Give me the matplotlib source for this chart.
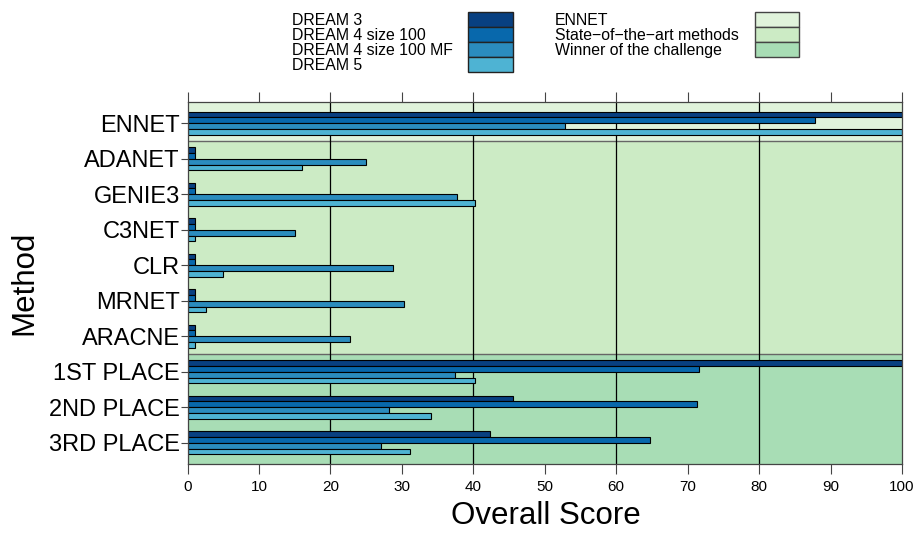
import matplotlib
matplotlib.use("Agg")
import matplotlib.pyplot as plt
from matplotlib.patches import Rectangle

plt.rcParams['font.family'] = ['Liberation Sans', 'DejaVu Sans']

methods = ["ENNET", "ADANET", "GENIE3", "C3NET", "CLR", "MRNET", "ARACNE",
           "1ST PLACE", "2ND PLACE", "3RD PLACE"]
series_names = ["DREAM 3", "DREAM 4 size 100", "DREAM 4 size 100 MF", "DREAM 5"]
dream3 = [100, 1, 1, 1, 1, 1, 1, 100, 45.5, 42.3]
dream4 = [87.8, 1, 1, 1, 1, 1, 1, 71.6, 71.3, 64.8]
dream4mf = [52.9, 25.0, 37.7, 15.1, 28.8, 30.3, 22.8, 37.5, 28.2, 27.1]
dream5 = [100, 16.0, 40.3, 1.0, 4.9, 2.6, 1.0, 40.3, 34.1, 31.1]
series = [dream3, dream4, dream4mf, dream5]
series_colors = ["#084081", "#0868ac", "#2b8cbe", "#4eb3d3"]

band_names = ["ENNET", "State\u2212of\u2212the\u2212art methods", "Winner of the challenge"]
band_colors = ["#e0f3db", "#ccebc5", "#a8ddb5"]
band_groups = [[0], [1, 2, 3, 4, 5, 6], [7, 8, 9]]

xticks = [0, 10, 20, 30, 40, 50, 60, 70, 80, 90, 100]
grid_x = [20, 40, 60, 80]

W, H = 916, 533
fig = plt.figure(figsize=(W / 100, H / 100), dpi=100)
L, R, T, B = 187.5, 902, 102, 464
ax = fig.add_axes([L / W, 1 - B / H, (R - L) / W, (B - T) / H])

n = len(methods)
ymin, ymax = -0.6, n - 1 + 0.6
ax.set_xlim(0, 100)
ax.set_ylim(ymax, ymin)

# background bands
for j, (g, col) in enumerate(zip(band_groups, band_colors)):
    lo = ymin if j == 0 else min(g) - 0.5
    hi = ymax if j == len(band_groups) - 1 else max(g) + 0.5
    ax.axhspan(lo, hi, color=col, zorder=0, lw=0)
for g in band_groups[:-1]:
    ax.axhline(max(g) + 0.5, color="#666666", lw=1.0, zorder=1)
for gx in grid_x:
    ax.axvline(gx, color="black", lw=0.9, zorder=1)

bh = 0.164
for k, (vals, col) in enumerate(zip(series, series_colors)):
    ys = [i + (k - 1.5) * bh for i in range(n)]
    ax.barh(ys, vals, height=bh, color=col, edgecolor="black", linewidth=0.8, zorder=3)

ax.set_yticks(range(n))
ax.set_yticklabels(methods, fontsize=17)
ax.set_xticks(xticks)
ax.set_xticklabels([str(v) for v in xticks], fontsize=11)
ax.tick_params(axis='y', direction='out', length=5, width=0.8, pad=0.5, color="#444444")
ax.tick_params(axis='x', direction='out', length=7.5, width=0.8, pad=4, color="#444444",
               top=True, labeltop=False)
for s in ax.spines.values():
    s.set_color("#444444")
    s.set_linewidth(0.9)
    s.set_zorder(5)

fig.text(546 / W, 1 - 516 / H, "Overall Score", fontsize=22.5, ha="center", va="center")
fig.text(24 / W, 1 - 283 / H, "Method", fontsize=22.5, ha="center", va="center", rotation=90)

# legend (key) in pixel coordinates
lax = fig.add_axes([0, 0, 1, 1])
lax.set_xlim(0, W)
lax.set_ylim(H, 0)
lax.axis("off")
top = 11.7
rh = 15
for k, (name, col) in enumerate(zip(series_names, series_colors)):
    y0 = top + k * rh
    lax.add_patch(Rectangle((468, y0), 44.5, rh, facecolor=col, edgecolor="#222222", lw=1.0))
    lax.text(291.5, y0 + rh / 2 + 1, name, fontsize=11.4, ha="left", va="center")
for k, (name, col) in enumerate(zip(band_names, band_colors)):
    y0 = top + k * rh
    lax.add_patch(Rectangle((754.5, y0), 44, rh, facecolor=col, edgecolor="#444444", lw=1.0))
    lax.text(555, y0 + rh / 2 + 1, name, fontsize=11.4, ha="left", va="center")

fig.savefig("out.png", dpi=100)
